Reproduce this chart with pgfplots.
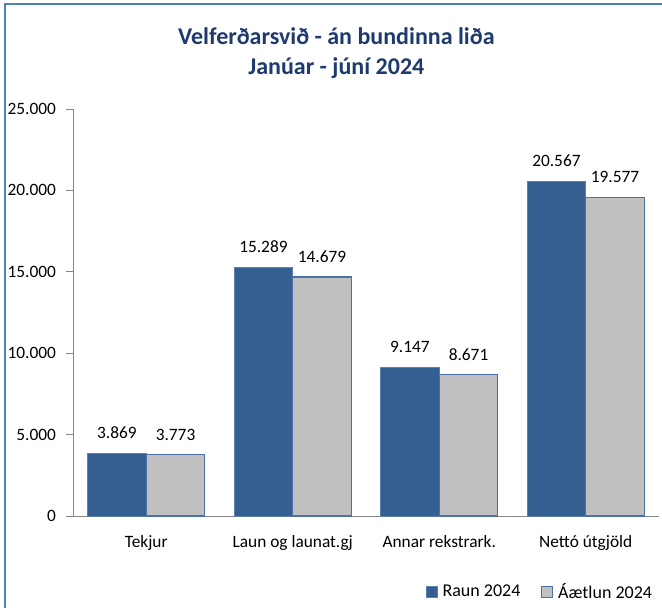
\documentclass[border=0pt]{standalone}
\usepackage{fontspec}
\setmainfont{Carlito}
\usepackage[HTML]{xcolor}
\usepackage{pgfplots}
\pgfplotsset{compat=1.18}
\definecolor{raun}{HTML}{365F91}
\definecolor{aaetlun}{HTML}{C0C0C0}
\definecolor{aaedge}{HTML}{4A72A8}
\definecolor{titleblue}{HTML}{1F3A6E}
\definecolor{axisgrey}{HTML}{868686}
\definecolor{framebl}{HTML}{4F81BD}

\begin{document}
\begin{tikzpicture}
% canvas: 1px = 0.75pt, axis origin at pixel (73,516)
\useasboundingbox (-54.75pt,-69pt) rectangle (441.75pt,387pt);
\draw[framebl, line width=1.2pt] (-51pt,-69pt) -- (-51pt,384pt) -- (441.75pt,384pt);
\node[font=\fontsize{18}{22.5}\selectfont\bfseries, text=titleblue, align=center]
  at (197.5pt,347pt) {Velferðarsvið - án bundinna liða\\Janúar - júní 2024};

\begin{axis}[
    scale only axis,
    width=439.5pt, height=305.25pt,
    ybar, bar width=0.4,
    xmin=-0.5, xmax=3.5,
    ymin=0, ymax=25000,
    ytick={0,5000,...,25000},
    xtick={0,1,2,3},
    xticklabels={Tekjur, Laun og launat.gj, Annar rekstrark., Nettó útgjöld},
    extra x ticks={0.5,1.5,2.5,3.5},
    extra x tick labels={},
    extra x tick style={major tick length=5.25pt, tick align=outside, tick style={axisgrey}},
    x tick style={draw=none},
    y tick style={axisgrey, line width=0.6pt},
    tick align=outside,
    major tick length=5.25pt,
    axis x line*=bottom, axis y line*=left,
    axis line style={axisgrey, line width=0.6pt, -},
    scaled y ticks=false,
    /pgf/number format/.cd, fixed, precision=0, 1000 sep={.}, assume math mode=true,
    /pgfplots/.cd,
    tick label style={font=\fontsize{13}{15}\selectfont, text=black},
    xticklabel style={yshift=-6pt},
    yticklabel style={xshift=-4pt},
    nodes near coords,
    every node near coord/.append style={font=\fontsize{13}{15}\selectfont, text=black, yshift=7pt},
    legend columns=2,
    legend style={at={(1.0,-0.187)}, anchor=east, draw=none, fill=none,
        font=\fontsize{13.5}{15}\selectfont,
        /tikz/every odd column/.append style={column sep=2pt},
        /tikz/every even column/.append style={column sep=13.5pt}},
    legend image code/.code={\draw[#1] (0pt,-4pt) rectangle (8pt,4pt);},
]
\addplot[bar shift=-0.2, fill=raun, draw=raun!80!white, line width=0.5pt] coordinates {
    (0,3869) (1,15289) (2,9147) (3,20567)
};
\addplot[bar shift=0.2, fill=aaetlun, draw=aaedge, line width=0.8pt] coordinates {
    (0,3773) (1,14679) (2,8671) (3,19577)
};
\legend{Raun 2024, Áætlun 2024}
\end{axis}
\end{tikzpicture}
\end{document}
